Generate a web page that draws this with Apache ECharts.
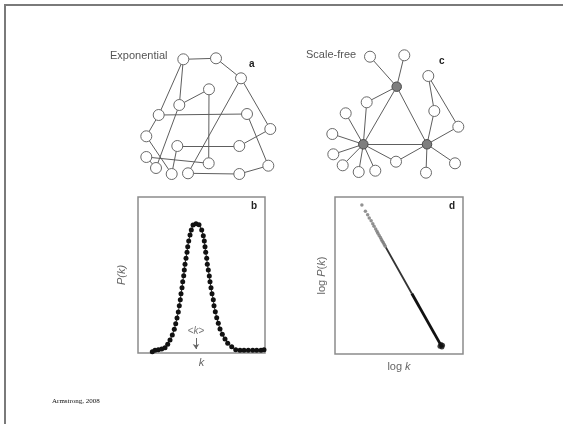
<!DOCTYPE html>
<html><head><meta charset="utf-8">
<script src="https://cdn.jsdelivr.net/npm/echarts@6/dist/echarts.min.js"></script>
<style>html,body{margin:0;padding:0;background:#fff}#c{width:563px;height:424px}</style>
</head><body><div id="c"></div>
<script>
// Panel a: exponential network (layout units)
const aX = [43.3, 76, 101, 69, 39.3, 18.7, 107, 130.3, 6.3, 37.3, 99.3, 6.3, 68.7, 128.3, 16, 31.7, 48, 99.3];
const aY = [9.3, 8.3, 28.3, 39.3, 55, 65, 64, 79, 86.3, 96, 96, 107, 113.3, 115.7, 118, 124, 123.3, 124];
const aLinks = [[0,1],[1,2],[0,4],[0,5],[4,3],[3,12],[2,7],[2,16],[5,6],[6,13],[7,10],[9,10],[9,15],[5,8],[8,15],[4,14],[11,12],[11,14],[16,17],[17,13]];
// Panel c: scale-free network (first three = hubs)
const cX = [71.7, 38.3, 102, 45, 79.3, 103.3, 41.7, 20.7, 109.3, 133.3, 7.3, 8.3, 17.7, 33.7, 50.3, 71, 130, 101];
const cY = [36.7, 94.3, 94.3, 6.7, 5.3, 26, 52.3, 63.3, 61, 76.7, 84, 104.3, 115.3, 122, 120.7, 111.7, 113.3, 122.7];
const cHubs = [0, 1, 2];
const cLinks = [[0,3],[0,4],[0,6],[0,1],[0,2],[1,2],[1,6],[1,7],[1,10],[1,11],[1,12],[1,13],[1,14],[1,15],[2,15],[2,8],[2,9],[2,16],[2,17],[5,8],[5,9]];
// Panel b: degree distribution P(k)
const bK = [14.3,17,20.3,23.7,27,29.7,32,34.3,36.3,37.7,39,40.3,41.3,42.3,43,44,44.7,45.7,46.3,47,48,49,49.7,50.7,52,53.3,55,58,61,63.7,65.3,66.3,67,67.7,68.7,69.3,70.3,71.3,72,73,74,75.3,76,77.3,78.7,80.3,82,84.3,87,89.7,93.7,97.7,102,106,110.3,114.7,118.7,123,126];
const bP = [1.3,2.7,3.3,4,5.3,8.7,13,18,23.7,29.3,35,41,47.3,53.3,59.3,65.3,71.3,77.3,83,88.7,94.7,100.7,106.3,112,118,123,128,129.3,128.3,123,117.3,112,106.3,100.7,94.7,88.7,83,77,71.3,65.3,59.3,53.3,47.3,41.3,35.3,29.7,24,18.7,14,9.7,6.3,3.3,2.7,2.7,2.7,2.7,2.7,2.7,3.3];
const kMean = 58;
// Panel d: log-log power law
const dLogK = [0.84,0.95,1.02,1.07,1.13,1.18,1.22,1.27,1.31,1.34,1.38,1.42,1.45,1.48,1.51,1.54,1.57];
const dLogP = [-0.31,-0.54,-0.68,-0.80,-0.91,-1.02,-1.12,-1.22,-1.31,-1.39,-1.47,-1.55,-1.62,-1.69,-1.75,-1.82,-1.88];
const dDenseK = [1.59, 2.4, 3.34];
const dDenseP = [-1.93, -3.69, -5.73];
const dBlobK = [3.28, 3.31, 3.34, 3.36];
const dBlobP = [-5.70, -5.64, -5.73, -5.67];

const pair = (xs, ys) => xs.map((x, i) => [x, ys[i]]);
const sans = 'Liberation Sans, Arial, sans-serif';
const axisNoDecor = {axisLine:{show:false}, axisTick:{show:false}, axisLabel:{show:false}, splitLine:{show:false}};

const chart = echarts.init(document.getElementById('c'), null, {renderer:'canvas'});
const nodeStyle = {color:'#fff', borderColor:'#6a6a6a', borderWidth:1};
chart.setOption({
  animation:false,
  backgroundColor:'#fff',
  grid:[
    {left:140, top:50, width:135, height:130, show:false},
    {left:325, top:50, width:140, height:130, show:false},
    {left:138, top:197, width:127, height:156, show:true, borderColor:'#8c8c8c', borderWidth:1.5, backgroundColor:'transparent'},
    {left:335, top:197, width:128, height:157, show:true, borderColor:'#8c8c8c', borderWidth:1.5, backgroundColor:'transparent'}
  ],
  xAxis:[
    {gridIndex:0, type:'value', min:0, max:135, show:false},
    {gridIndex:1, type:'value', min:0, max:140, show:false},
    Object.assign({gridIndex:2, type:'value', min:0, max:127, name:'k', nameLocation:'middle', nameGap:4,
      nameTextStyle:{fontStyle:'italic', color:'#666', fontSize:11, fontFamily:sans, verticalAlign:'top'}}, axisNoDecor),
    Object.assign({gridIndex:3, type:'value', min:0, max:4, name:'log {i|k}', nameLocation:'middle', nameGap:7,
      nameTextStyle:{color:'#666', fontSize:11, fontFamily:sans, verticalAlign:'top', rich:{i:{fontStyle:'italic', color:'#666', fontSize:11, fontFamily:sans}}}}, axisNoDecor)
  ],
  yAxis:[
    {gridIndex:0, type:'value', min:0, max:130, inverse:true, show:false},
    {gridIndex:1, type:'value', min:0, max:130, inverse:true, show:false},
    Object.assign({gridIndex:2, type:'value', min:0, max:156, name:'P(k)', nameLocation:'middle', nameGap:11, nameRotate:90,
      nameTextStyle:{fontStyle:'italic', color:'#666', fontSize:11, fontFamily:sans}}, axisNoDecor),
    Object.assign({gridIndex:3, type:'value', min:-6, max:0, name:'log {i|P}({i|k})', nameLocation:'middle', nameGap:8, nameRotate:90,
      nameTextStyle:{color:'#666', fontSize:11, fontFamily:sans, rich:{i:{fontStyle:'italic', color:'#666', fontSize:11, fontFamily:sans}}}}, axisNoDecor)
  ],
  series:[
    {type:'graph', coordinateSystem:'cartesian2d', xAxisIndex:0, yAxisIndex:0, symbol:'circle', symbolSize:11,
      itemStyle:nodeStyle, lineStyle:{color:'#5e5e5e', width:1, opacity:1}, label:{show:false},
      data:pair(aX, aY), links:aLinks.map(l => ({source:l[0], target:l[1]}))},
    {type:'graph', coordinateSystem:'cartesian2d', xAxisIndex:1, yAxisIndex:1, symbol:'circle', symbolSize:11,
      itemStyle:nodeStyle, lineStyle:{color:'#5e5e5e', width:1, opacity:1}, label:{show:false},
      data:pair(cX, cY).map((v, i) => cHubs.includes(i) ? {value:v, symbolSize:9.5, itemStyle:{color:'#7e7e7e', borderColor:'#4a4a4a', borderWidth:1}} : {value:v}),
      links:cLinks.map(l => ({source:l[0], target:l[1]}))},
    {type:'line', xAxisIndex:2, yAxisIndex:2, data:pair(bK, bP), symbol:'circle', symbolSize:5, showSymbol:true,
      lineStyle:{color:'#333', width:1}, itemStyle:{color:'#111'},
      markLine:{silent:true, symbol:['none','arrow'], symbolSize:5, lineStyle:{color:'#666', width:1, type:'solid'},
        label:{show:true, position:'start', distance:2, formatter:'<{i|k}>', color:'#777', fontSize:10, fontFamily:sans,
          rich:{i:{fontStyle:'italic', color:'#777', fontSize:10, fontFamily:sans}}},
        data:[[{coord:[kMean, 15]}, {coord:[kMean, 4]}]]}},
    {type:'scatter', xAxisIndex:3, yAxisIndex:3, data:pair(dLogK, dLogP), symbol:'circle', symbolSize:3.5, itemStyle:{color:'#777'}},
    {type:'line', xAxisIndex:3, yAxisIndex:3, data:pair(dDenseK.slice(0,2), dDenseP.slice(0,2)), showSymbol:false, lineStyle:{color:'#333', width:1.8}},
    {type:'line', xAxisIndex:3, yAxisIndex:3, data:pair(dDenseK.slice(1), dDenseP.slice(1)), showSymbol:false, lineStyle:{color:'#111', width:2.8}},
    {type:'scatter', xAxisIndex:3, yAxisIndex:3, data:pair(dBlobK, dBlobP), symbol:'circle', symbolSize:5, itemStyle:{color:'#111'}}
  ],
  graphic:[
    {type:'polyline', shape:{points:[[5,430],[5,5],[570,5]]}, style:{stroke:'#7a7a7a', lineWidth:2, fill:null}},
    {type:'text', left:110, top:50, style:{text:'Exponential', font:'11px '+sans, fill:'#555'}},
    {type:'text', left:249, top:59, style:{text:'a', font:'bold 10px '+sans, fill:'#222'}},
    {type:'text', left:306, top:49, style:{text:'Scale-free', font:'11px '+sans, fill:'#555'}},
    {type:'text', left:439, top:56, style:{text:'c', font:'bold 10px '+sans, fill:'#222'}},
    {type:'text', left:251, top:201, style:{text:'b', font:'bold 10px '+sans, fill:'#222'}},
    {type:'text', left:449, top:201, style:{text:'d', font:'bold 10px '+sans, fill:'#222'}},
    {type:'text', left:52, top:398, style:{text:'Armstrong, 2008', font:'7px Liberation Serif, Times New Roman, serif', fill:'#111'}}
  ]
});
</script></body></html>
